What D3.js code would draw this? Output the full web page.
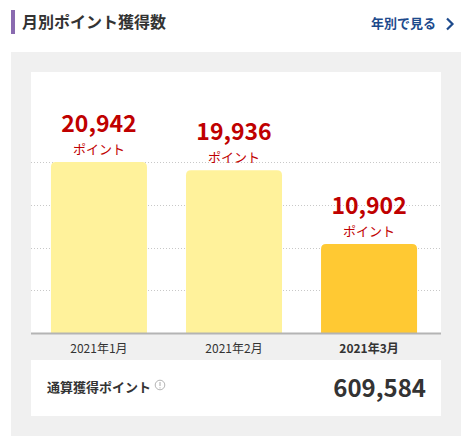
<!DOCTYPE html>
<html><head><meta charset="utf-8">
<script src="https://cdn.jsdelivr.net/npm/d3@7"></script>
<style>
html,body{margin:0;padding:0;background:#fff;}
svg{display:block;font-family:"Noto Sans CJK JP","Noto Sans",sans-serif;}
</style></head>
<body>
<svg id="c" width="470" height="446"></svg>
<script>
const title = "月別ポイント獲得数";
const linkText = "年別で見る";
const months = ["2021年1月", "2021年2月", "2021年3月"];
const points = [20942, 19936, 10902];
const unitLabel = "ポイント";
const totalLabel = "通算獲得ポイント";
const totalValue = 609584;

const svg = d3.select("#c");
const fmt = d3.format(",");

// header
svg.append("rect").attr("x", 11).attr("y", 10).attr("width", 4).attr("height", 24).attr("fill", "#8a6bb0");
svg.append("text").attr("x", 22).attr("y", 28).attr("font-size", 16).attr("font-weight", "bold").attr("fill", "#333").text(title);
svg.append("text").attr("x", 436).attr("y", 28).attr("text-anchor", "end").attr("font-size", 13).attr("font-weight", "bold").attr("fill", "#1d4a8c").text(linkText);
svg.append("path").attr("d", "M447,18.5 L452.5,24 L447,29.5").attr("fill", "none").attr("stroke", "#1d4a8c").attr("stroke-width", 2.2);

// panels
svg.append("rect").attr("x", 11).attr("y", 52).attr("width", 450).attr("height", 384).attr("fill", "#f0f0f0");
svg.append("rect").attr("x", 31).attr("y", 72).attr("width", 410).attr("height", 261).attr("fill", "#fff");
svg.append("rect").attr("x", 31).attr("y", 360).attr("width", 410).attr("height", 56).attr("fill", "#fff");

// scales
const x = d3.scaleBand().domain(months).range([31.5, 436.5]).paddingInner(0.289).paddingOuter(0.144);
const y = d3.scaleLinear().domain([0, d3.max(points)]).range([333, 162]);

// grid
const ticks = d3.range(1, 5).map(i => d3.max(points) * i / 4);
svg.append("g").selectAll("line").data(ticks).join("line")
  .attr("x1", 31).attr("x2", 441)
  .attr("y1", d => Math.round(y(d)) + 0.5).attr("y2", d => Math.round(y(d)) + 0.5)
  .attr("stroke", "#c8c8c8").attr("stroke-width", 1).attr("stroke-dasharray", "1,2");

// bars with rounded top corners
const r = 5;
function barPath(x0, w, y0, y1) {
  return `M${x0},${y1} L${x0},${y0 + r} Q${x0},${y0} ${x0 + r},${y0} L${x0 + w - r},${y0} Q${x0 + w},${y0} ${x0 + w},${y0 + r} L${x0 + w},${y1} Z`;
}
const data = months.map((m, i) => ({ m, v: points[i], last: i === months.length - 1 }));
svg.append("g").selectAll("path").data(data).join("path")
  .attr("d", d => barPath(x(d.m), x.bandwidth(), y(d.v), 333))
  .attr("fill", d => d.last ? "#ffc933" : "#fff29b");

// value labels
const lab = svg.append("g").selectAll("g").data(data).join("g");
lab.append("text").attr("x", d => x(d.m) + x.bandwidth() / 2).attr("y", d => y(d.v) - 30)
  .attr("text-anchor", "middle").attr("font-size", 23).attr("font-weight", "bold").attr("fill", "#bf0000")
  .text(d => fmt(d.v));
lab.append("text").attr("x", d => x(d.m) + x.bandwidth() / 2).attr("y", d => y(d.v) - 8)
  .attr("text-anchor", "middle").attr("font-size", 13).attr("fill", "#bf0000")
  .text(unitLabel);

// axis
svg.append("line").attr("x1", 31).attr("x2", 441).attr("y1", 333.5).attr("y2", 333.5).attr("stroke", "#b4b4b4").attr("stroke-width", 2);
const ax = svg.append("g").attr("transform", "translate(0,333)")
  .call(d3.axisBottom(x).tickSize(0).tickPadding(11));
ax.select(".domain").remove();
ax.selectAll("text").attr("font-size", 12).attr("fill", "#333")
  .attr("font-family", "\"Noto Sans CJK JP\",sans-serif")
  .attr("font-weight", (d, i) => i === months.length - 1 ? "bold" : "normal");

// total
svg.append("text").attr("x", 47).attr("y", 392).attr("font-size", 13).attr("font-weight", "bold").attr("fill", "#333").text(totalLabel);
svg.append("circle").attr("cx", 160).attr("cy", 385).attr("r", 4.8).attr("fill", "none").attr("stroke", "#aaa").attr("stroke-width", 0.9);
svg.append("line").attr("x1", 160).attr("x2", 160).attr("y1", 382).attr("y2", 386).attr("stroke", "#aaa").attr("stroke-width", 1);
svg.append("circle").attr("cx", 160).attr("cy", 387.8).attr("r", 0.6).attr("fill", "#aaa");
svg.append("text").attr("x", 426).attr("y", 397).attr("text-anchor", "end").attr("font-size", 24).attr("font-weight", "bold").attr("fill", "#333").text(fmt(totalValue));
</script>
</body></html>
